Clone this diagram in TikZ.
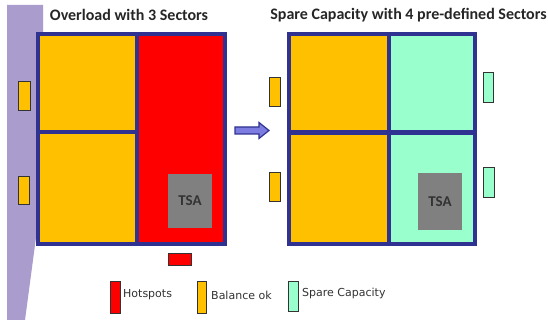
\documentclass[tikz,border=0pt]{standalone}
\usepackage{fontspec}
\setmainfont{Carlito}
\newfontfamily\legfont{DejaVu Sans}
\definecolor{navy}{RGB}{48,50,145}
\definecolor{orng}{RGB}{255,192,0}
\definecolor{hot}{RGB}{255,0,0}
\definecolor{mint}{RGB}{153,255,204}
\definecolor{tsagray}{RGB}{128,128,128}
\definecolor{lilac}{RGB}{170,156,204}
\definecolor{arrowfill}{RGB}{125,125,225}
\tikzset{
  border/.style={draw=navy,line width=4.5pt},
  mark box/.style={draw=black!80,line width=0.8pt},
  title/.style={font=\fontsize{16}{18}\selectfont\bfseries,text=black!85,inner sep=0pt},
  legtext/.style={font=\legfont\fontsize{11}{13}\selectfont,text=black!80,anchor=west,inner sep=0pt},
  tsatext/.style={font=\fontsize{15}{17}\selectfont\bfseries,text=black!80}
}
\begin{document}
\begin{tikzpicture}[x=1pt,y=-1pt]
\useasboundingbox (0,0) rectangle (548,320);
\fill[white] (0,0) rectangle (548,320);
% lilac strip
\fill[lilac] (7,5) -- (43,5) -- (43,185) -- (25,320) -- (7,320) -- cycle;
% titles
\node[title] (t1) at (129,15) {Overload with 3 Sectors};
\node[title] (t2) at (408.5,15) {Spare Capacity with 4 pre-defined Sectors};
% left box
\fill[orng] (38,34) rectangle (137,244);
\fill[hot] (137,34) rectangle (225,244);
\fill[tsagray] (168,174) rectangle (212,228);
\node[tsatext] (tsa1) at (190,201) {TSA};
\draw[border] (137,34) -- (137,244);
\draw[border] (38,132) -- (137,132);
\draw[border] (38,34) rectangle (225,244);
% right box
\fill[orng] (289,34) rectangle (389,244);
\fill[mint] (389,34) rectangle (475,244);
\fill[tsagray] (418,173) rectangle (462,230);
\node[tsatext] (tsa2) at (440,201.5) {TSA};
\draw[border] (389,34) -- (389,244);
\draw[border] (289,132.5) -- (475,132.5);
\draw[border] (289,34) rectangle (475,244);
% small markers
\draw[mark box,fill=orng] (18.5,81.5) rectangle (30.5,110.5);
\draw[mark box,fill=orng] (18.5,176.5) rectangle (29.5,204.5);
\draw[mark box,fill=orng] (269.5,77.5) rectangle (280,106);
\draw[mark box,fill=orng] (269.5,172.5) rectangle (280,201);
\draw[mark box,fill=mint] (483.5,72.5) rectangle (493.5,102);
\draw[mark box,fill=mint] (483.5,167.5) rectangle (494,197);
\draw[mark box,fill=hot] (168.5,253.5) rectangle (191,265);
% arrow
\draw[navy,line width=1.2pt,fill=arrowfill,line join=miter]
  (235,127) -- (259,127) -- (259,122.5) -- (269,130.5) -- (259,138.5) -- (259,134) -- (235,134) -- cycle;
% legend
\draw[mark box,fill=hot] (110.5,281.5) rectangle (120,313);
\node[legtext] (l1) at (123,295) {Hotspots};
\draw[mark box,fill=orng] (197.5,281.5) rectangle (206,313);
\node[legtext] (l2) at (211,295) {Balance ok};
\draw[mark box,fill=mint] (288.5,281.5) rectangle (298,311);
\node[legtext] (l3) at (302,293.5) {Spare Capacity};
\end{tikzpicture}
\end{document}
